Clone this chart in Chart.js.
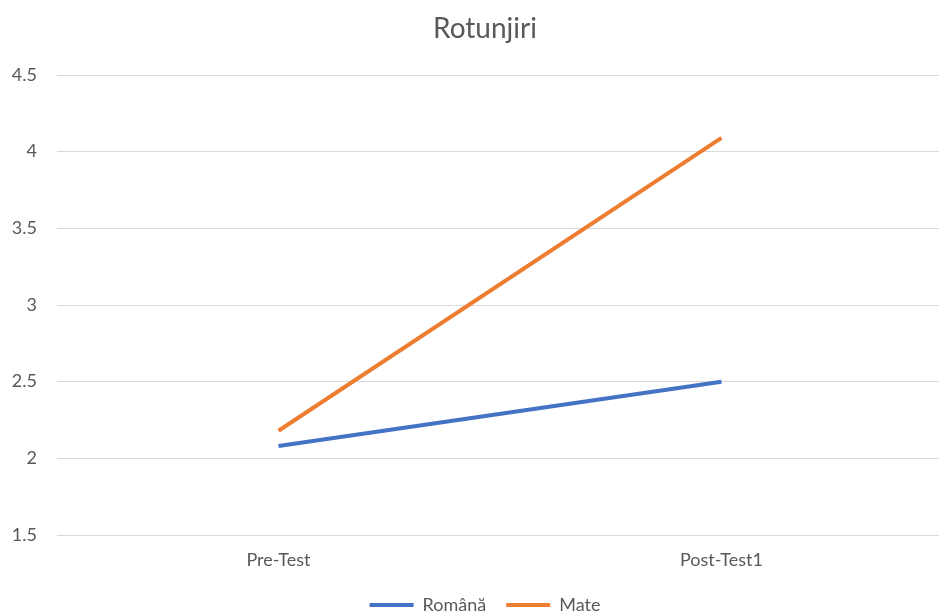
<!DOCTYPE html>
<html>
<head>
<meta charset="utf-8">
<script src="https://cdn.jsdelivr.net/npm/chart.js@4/dist/chart.umd.min.js"></script>
<style>
  html, body { margin: 0; padding: 0; background: #fff; overflow: hidden; }
  #wrap { width: 939px; height: 615px; overflow: hidden; }
</style>
</head>
<body>
<div id="wrap"><canvas id="rotunjiri" width="970" height="624"></canvas></div>
<script>
  // ── Data ──
  var categories = ['Pre-Test', 'Post-Test1'];
  var romanaValues = [2.08, 2.5];
  var mateValues = [2.18, 4.09];
  var seriesNames = ['Română', 'Mate'];
  var yTicks = [1.5, 2, 2.5, 3, 3.5, 4, 4.5];

  var textColor = '#595959';
  var fontFamily = 'Lato, "Open Sans", sans-serif';
  var tickFont = { family: fontFamily, size: 18 };

  var ctx = document.getElementById('rotunjiri').getContext('2d');

  // widest y label, used to place mirrored labels left of the grid
  ctx.font = tickFont.size + 'px ' + fontFamily;
  var widestY = 0;
  yTicks.forEach(function (v) {
    widestY = Math.max(widestY, ctx.measureText(String(v)).width);
  });

  new Chart(ctx, {
    type: 'line',
    data: {
      labels: categories,
      datasets: [
        {
          label: seriesNames[0],
          data: romanaValues,
          borderColor: '#4472C4',
          backgroundColor: '#4472C4',
          borderWidth: 4,
          pointRadius: 0,
          pointStyle: 'line',
          tension: 0
        },
        {
          label: seriesNames[1],
          data: mateValues,
          borderColor: '#ED7D31',
          backgroundColor: '#ED7D31',
          borderWidth: 4,
          pointRadius: 0,
          pointStyle: 'line',
          tension: 0
        }
      ]
    },
    options: {
      responsive: false,
      animation: false,
      layout: { padding: { left: 27, right: 27, top: 0, bottom: 0 } },
      plugins: {
        title: {
          display: true,
          text: 'Rotunjiri',
          color: textColor,
          font: { family: fontFamily, size: 28, weight: 'normal' },
          padding: { top: 12.5, bottom: 28.9 }
        },
        legend: {
          position: 'bottom',
          labels: {
            color: textColor,
            font: tickFont,
            usePointStyle: true,
            pointStyleWidth: 44,
            padding: 20
          }
        },
        tooltip: { enabled: false }
      },
      scales: {
        x: {
          offset: true,
          afterFit: function (scale) { scale.height = 41; },
          grid: { display: false, drawTicks: false },
          border: { display: false },
          ticks: {
            color: textColor,
            font: tickFont,
            padding: 14
          }
        },
        y: {
          min: 1.5,
          max: 4.5,
          afterBuildTicks: function (scale) {
            scale.ticks = yTicks.map(function (v) { return { value: v }; });
          },
          afterFit: function (scale) { scale.width = 30; },
          grid: { color: '#d9d9d9', lineWidth: 1, drawTicks: false },
          border: { display: false },
          ticks: {
            color: textColor,
            font: tickFont,
            mirror: true,
            crossAlign: 'far',
            padding: -20 - widestY,
            callback: function (value) { return String(value); }
          }
        }
      }
    }
  });
</script>
</body>
</html>
